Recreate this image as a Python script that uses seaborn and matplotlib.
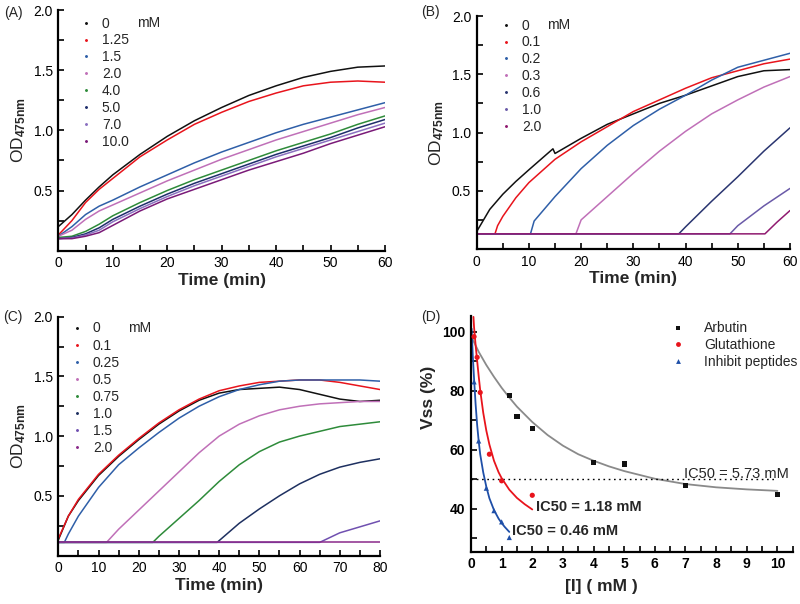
import numpy as np
import pandas as pd
import matplotlib
matplotlib.use('Agg')
import matplotlib.pyplot as plt
import seaborn as sns
from matplotlib.lines import Line2D
from matplotlib.ticker import MultipleLocator

sns.set_theme(style='ticks')
plt.rcParams['font.family'] = ['Liberation Sans', 'DejaVu Sans']
plt.rcParams['mathtext.fontset'] = 'custom'
plt.rcParams['mathtext.rm'] = 'Liberation Sans:bold'
plt.rcParams['mathtext.bf'] = 'Liberation Sans:bold'
plt.rcParams['mathtext.default'] = 'bf'

# ---------------- Panel A data ----------------
A_time = [0, 2.5, 5, 7.5, 10, 15, 20, 25, 30, 35, 40, 45, 50, 55, 60]
A_labels = ['0', '1.25', '1.5', '2.0', '4.0', '5.0', '7.0', '10.0']
A_colors = ['#111111', '#e8141c', '#2f5fa8', '#c070b8', '#2e8b3a', '#1e2d6b', '#8a70c0', '#7a1a78']
A_v0 = [0.20, 0.30, 0.42, 0.53, 0.63, 0.80, 0.95, 1.08, 1.19, 1.29, 1.37, 1.44, 1.49, 1.525, 1.535]
A_v125 = [0.13, 0.25, 0.40, 0.51, 0.60, 0.78, 0.92, 1.05, 1.15, 1.24, 1.31, 1.37, 1.40, 1.41, 1.40]
A_v15 = [0.12, 0.20, 0.30, 0.37, 0.42, 0.53, 0.63, 0.73, 0.82, 0.90, 0.98, 1.05, 1.11, 1.17, 1.23]
A_v20 = [0.12, 0.17, 0.26, 0.33, 0.38, 0.48, 0.58, 0.67, 0.76, 0.84, 0.92, 0.99, 1.06, 1.13, 1.19]
A_v40 = [0.11, 0.12, 0.16, 0.22, 0.29, 0.40, 0.50, 0.59, 0.67, 0.75, 0.83, 0.90, 0.97, 1.05, 1.12]
A_v50 = [0.10, 0.11, 0.14, 0.19, 0.26, 0.37, 0.47, 0.56, 0.64, 0.72, 0.80, 0.87, 0.94, 1.02, 1.09]
A_v70 = [0.10, 0.105, 0.13, 0.17, 0.24, 0.35, 0.45, 0.54, 0.62, 0.70, 0.78, 0.85, 0.92, 0.99, 1.06]
A_v100 = [0.10, 0.10, 0.12, 0.15, 0.21, 0.33, 0.43, 0.51, 0.59, 0.67, 0.74, 0.81, 0.89, 0.96, 1.03]

# ---------------- Panel B data ----------------
B_labels = ['0', '0.1', '0.2', '0.3', '0.6', '1.0', '2.0']
B_colors = ['#111111', '#e8141c', '#2f5fa8', '#c070b8', '#2a3570', '#6a5aa8', '#901a70']
B_t0 = [0, 2.5, 5, 7.5, 10, 14.6, 15, 20, 25, 30, 35, 40, 45, 50, 55, 60]
B_v0 = [0.15, 0.34, 0.47, 0.58, 0.68, 0.86, 0.82, 0.95, 1.07, 1.16, 1.25, 1.32, 1.40, 1.48, 1.53, 1.54]
B_t01 = [0, 3.5, 4, 5, 7.5, 10, 15, 20, 25, 30, 35, 40, 45, 50, 55, 60]
B_v01 = [0.13, 0.13, 0.20, 0.28, 0.44, 0.57, 0.77, 0.92, 1.05, 1.18, 1.28, 1.38, 1.47, 1.53, 1.59, 1.63]
B_t02 = [0, 10.3, 11, 15, 20, 25, 30, 35, 40, 45, 50, 55, 60]
B_v02 = [0.13, 0.13, 0.24, 0.45, 0.69, 0.89, 1.06, 1.20, 1.32, 1.45, 1.56, 1.62, 1.68]
B_t03 = [0, 19, 20, 25, 30, 35, 40, 45, 50, 55, 60]
B_v03 = [0.13, 0.13, 0.25, 0.45, 0.65, 0.84, 1.01, 1.16, 1.28, 1.39, 1.48]
B_t06 = [0, 38.7, 40, 45, 50, 55, 60]
B_v06 = [0.13, 0.13, 0.19, 0.41, 0.62, 0.84, 1.04]
B_t10 = [0, 48.5, 50, 55, 60]
B_v10 = [0.13, 0.13, 0.20, 0.37, 0.52]
B_t20 = [0, 55.2, 57.5, 60]
B_v20 = [0.13, 0.13, 0.23, 0.33]

# ---------------- Panel C data ----------------
C_labels = ['0', '0.1', '0.25', '0.5', '0.75', '1.0', '1.5', '2.0']
C_colors = ['#111111', '#e8141c', '#2f5fa8', '#c070b8', '#2e8b3a', '#1e3060', '#7050b0', '#8a2a8a']
C_t0 = [0, 2.5, 5, 10, 15, 20, 25, 30, 35, 40, 45, 50, 55, 60, 65, 70, 75, 80]
C_v0 = [0.13, 0.33, 0.46, 0.67, 0.83, 0.97, 1.10, 1.21, 1.30, 1.36, 1.39, 1.40, 1.41, 1.39, 1.35, 1.31, 1.29, 1.30]
C_t01 = [0, 2.5, 5, 10, 15, 20, 25, 30, 35, 40, 45, 50, 55, 60, 65, 70, 75, 80]
C_v01 = [0.14, 0.33, 0.47, 0.68, 0.84, 0.98, 1.11, 1.22, 1.31, 1.38, 1.42, 1.45, 1.46, 1.47, 1.47, 1.45, 1.42, 1.39]
C_t025 = [0, 1.5, 2.5, 5, 10, 15, 20, 25, 30, 35, 40, 45, 50, 55, 60, 65, 70, 75, 80]
C_v025 = [0.11, 0.11, 0.18, 0.33, 0.57, 0.76, 0.90, 1.03, 1.15, 1.25, 1.33, 1.39, 1.43, 1.46, 1.47, 1.47, 1.47, 1.47, 1.46]
C_t05 = [0, 12, 15, 20, 25, 30, 35, 40, 45, 50, 55, 60, 65, 70, 75, 80]
C_v05 = [0.11, 0.11, 0.22, 0.38, 0.54, 0.70, 0.86, 1.00, 1.10, 1.17, 1.22, 1.25, 1.27, 1.28, 1.29, 1.29]
C_t075 = [0, 23.5, 25, 30, 35, 40, 45, 50, 55, 60, 65, 70, 75, 80]
C_v075 = [0.11, 0.11, 0.16, 0.31, 0.46, 0.62, 0.76, 0.87, 0.95, 1.00, 1.04, 1.08, 1.10, 1.12]
C_t10 = [0, 39.5, 45, 50, 55, 60, 65, 70, 75, 80]
C_v10 = [0.11, 0.11, 0.27, 0.39, 0.50, 0.60, 0.68, 0.74, 0.78, 0.81]
C_t15 = [0, 65, 70, 75, 80]
C_v15 = [0.11, 0.11, 0.19, 0.24, 0.29]
C_t20 = [0, 80]
C_v20 = [0.11, 0.11]

# ---------------- Panel D data ----------------
D_names = ['Arbutin', 'Glutathione', 'Inhibit peptides']
D_colors = ['#111111', '#e8141c', '#1f4fa8']
D_arb_x = [1.25, 1.5, 2.0, 4.0, 5.0, 7.0, 10.0]
D_arb_y = [78.3, 71.2, 67.1, 55.8, 55.2, 48.0, 45.0]
D_glu_x = [0.1, 0.2, 0.3, 0.6, 1.0, 2.0]
D_glu_y = [98.3, 91.3, 79.4, 58.5, 49.5, 44.6]
D_pep_x = [0.1, 0.25, 0.5, 0.75, 1.0, 1.25]
D_pep_y = [83.0, 63.0, 47.0, 39.4, 35.6, 30.3]
# fitted curves
D_arb_fit_x = [0.05, 0.25, 0.5, 0.75, 1, 1.25, 1.5, 2, 2.5, 3, 3.5, 4, 4.5, 5, 6, 7, 8, 9, 10]
D_arb_fit_y = [97.5, 93.2, 88.7, 84.7, 81.0, 77.7, 74.6, 69.4, 65.0, 61.4, 58.5, 56.3, 54.4, 52.8, 50.2, 48.4, 47.3, 46.6, 46.1]
D_glu_fit_x = [0.08, 0.1, 0.15, 0.2, 0.25, 0.3, 0.4, 0.5, 0.6, 0.75, 0.9, 1.0, 1.25, 1.5, 1.75, 2.0]
D_glu_fit_y = [105.0, 101.5, 95.5, 90.2, 85.0, 80.2, 72.5, 66.5, 61.8, 56.3, 52.4, 50.4, 46.5, 43.7, 41.6, 39.8]
D_pep_fit_x = [0.02, 0.06, 0.1, 0.15, 0.2, 0.25, 0.3, 0.4, 0.5, 0.6, 0.75, 0.9, 1.0, 1.1, 1.25]
D_pep_fit_y = [101.0, 91.5, 84.0, 75.5, 68.5, 63.0, 58.5, 52.3, 47.5, 43.6, 39.6, 36.7, 35.2, 33.9, 32.2]
D_ic50_level = 50
D_ic50_texts = ['IC50 = 5.73 mM', 'IC50 = 1.18 mM', 'IC50 = 0.46 mM']

W, H = 800, 604
fig = plt.figure(figsize=(8.0, 6.04), dpi=100)


def fx(px):
    return px / W


def fy(py):
    return 1 - py / H


def add_ax(l, t, r, b):
    return fig.add_axes([fx(l), fy(b), fx(r) - fx(l), (b - t) / H])


def style(ax, bold_ticks=False):
    sns.despine(ax=ax)
    for s in ['left', 'bottom']:
        ax.spines[s].set_linewidth(1.6)
        ax.spines[s].set_color('black')
    ax.tick_params(which='both', direction='in', width=1.2, colors='black',
                   labelsize=10, pad=4)
    ax.tick_params(which='major', length=4)
    ax.tick_params(which='minor', length=4)
    if bold_ticks:
        for lab in ax.get_xticklabels() + ax.get_yticklabels():
            lab.set_fontweight('bold')


def series_frame(ts, vs, labels):
    rows = []
    for t, v, lab in zip(ts, vs, labels):
        rows.append(pd.DataFrame({'time': t, 'od': v, 'conc': lab}))
    return pd.concat(rows, ignore_index=True)


def od_panel(ax, df, labels, colors, xmax, xstep, leg_px, mm_px, spacing):
    sns.lineplot(data=df, x='time', y='od', hue='conc', hue_order=labels,
                 palette=colors, estimator=None, sort=False, lw=1.1,
                 legend=False, ax=ax)
    ax.set_xlim(0, xmax)
    ax.set_ylim(0.0, 2.0)
    ax.set_xticks(np.arange(0, xmax + 1, xstep))
    ax.xaxis.set_minor_locator(MultipleLocator(xstep / 2))
    ax.set_yticks([0.5, 1.0, 1.5, 2.0])
    ax.yaxis.set_minor_locator(MultipleLocator(0.25))
    ax.set_xlabel('Time (min)', fontsize=12.5, fontweight='bold', labelpad=2)
    ax.set_ylabel('OD$_{475nm}$', fontsize=12.5, labelpad=4)
    style(ax)
    handles = [Line2D([], [], ls='none', marker='.', markersize=2.2, color=c) for c in colors]
    ax.legend(handles, labels, loc='upper left', frameon=False, fontsize=10,
              bbox_to_anchor=(fx(leg_px[0]), fy(leg_px[1])), bbox_transform=fig.transFigure,
              borderaxespad=0, borderpad=0, handlelength=1.0, handletextpad=0.65,
              labelspacing=spacing)
    fig.text(fx(mm_px[0]), fy(mm_px[1]), 'mM', fontsize=10, va='center', ha='left')


# Panel A
axA = add_ax(58.3, 10, 385, 250.7)
dfA = series_frame([A_time] * 8, [A_v0, A_v125, A_v15, A_v20, A_v40, A_v50, A_v70, A_v100], A_labels)
od_panel(axA, dfA, A_labels, A_colors, 60, 10, (79, 16.5), (137, 23.3), 0.21)

# Panel B
axB = add_ax(476.7, 16, 790, 249)
dfB = series_frame([B_t0, B_t01, B_t02, B_t03, B_t06, B_t10, B_t20],
                   [B_v0, B_v01, B_v02, B_v03, B_v06, B_v10, B_v20], B_labels)
od_panel(axB, dfB, B_labels, B_colors, 60, 10, (499, 18.5), (546.7, 25), 0.21)

# Panel C
axC = add_ax(58.3, 316.7, 380, 555.5)
dfC = series_frame([C_t0, C_t01, C_t025, C_t05, C_t075, C_t10, C_t15, C_t20],
                   [C_v0, C_v01, C_v025, C_v05, C_v075, C_v10, C_v15, C_v20], C_labels)
od_panel(axC, dfC, C_labels, C_colors, 80, 10, (70, 321.5), (128, 328.3), 0.22)

# Panel D
axD = add_ax(471, 316, 792.7, 551.7)
dpts = pd.concat([
    pd.DataFrame({'conc': D_arb_x, 'vss': D_arb_y, 'agent': D_names[0]}),
    pd.DataFrame({'conc': D_glu_x, 'vss': D_glu_y, 'agent': D_names[1]}),
    pd.DataFrame({'conc': D_pep_x, 'vss': D_pep_y, 'agent': D_names[2]}),
], ignore_index=True)
dfit = pd.concat([
    pd.DataFrame({'conc': D_arb_fit_x, 'vss': D_arb_fit_y, 'agent': D_names[0]}),
    pd.DataFrame({'conc': D_glu_fit_x, 'vss': D_glu_fit_y, 'agent': D_names[1]}),
    pd.DataFrame({'conc': D_pep_fit_x, 'vss': D_pep_fit_y, 'agent': D_names[2]}),
], ignore_index=True)
sns.lineplot(data=dfit, x='conc', y='vss', hue='agent', hue_order=D_names,
             palette=['#8a8a8a', '#e8141c', '#1f4fa8'], estimator=None, sort=False,
             lw=1.3, legend=False, ax=axD)
markers = {'Arbutin': 's', 'Glutathione': 'o', 'Inhibit peptides': '^'}
sns.scatterplot(data=dpts, x='conc', y='vss', hue='agent', style='agent',
                hue_order=D_names, style_order=D_names, markers=markers,
                palette=D_colors, s=14, linewidth=0, legend=False, ax=axD, zorder=3)
axD.axhline(D_ic50_level, xmin=0, xmax=10 / 10.5, color='black', ls=(0, (1.2, 2.6)), lw=1.0)
axD.set_xlim(0, 10.5)
axD.set_ylim(25.5, 105.3)
axD.set_xticks(range(0, 11))
axD.xaxis.set_minor_locator(MultipleLocator(0.5))
axD.set_yticks([40, 60, 80, 100])
axD.yaxis.set_minor_locator(MultipleLocator(10))
axD.set_xlabel('[I] ( mM )', fontsize=12.5, fontweight='bold')
axD.set_ylabel('Vss (%)', fontsize=12.5, fontweight='bold')
axD.xaxis.set_label_coords(0.406, -0.115)
axD.yaxis.set_label_coords(-0.11, 0.656)
style(axD, bold_ticks=True)
axD.text(6.95, 51.8, D_ic50_texts[0], fontsize=10.5, ha='left', va='center')
axD.text(2.12, 40.8, D_ic50_texts[1], fontsize=10.5, fontweight='bold', ha='left', va='center')
axD.text(1.35, 32.5, D_ic50_texts[2], fontsize=10.5, fontweight='bold', ha='left', va='center')
hD = [Line2D([], [], ls='none', marker=m, markersize=3.5, color=c, markeredgewidth=0)
      for m, c in zip(['s', 'o', '^'], D_colors)]
leg = axD.legend(hD, D_names, loc='upper left', frameon=False, fontsize=10,
                 bbox_to_anchor=(fx(672), fy(321.5)), bbox_transform=fig.transFigure,
                 borderaxespad=0, borderpad=0, handlelength=0.8, handletextpad=1.5,
                 labelspacing=0.2)

# panel letters
fig.text(fx(4), fy(13), '(A)', fontsize=10, va='center')
fig.text(fx(421), fy(12), '(B)', fontsize=10, va='center')
fig.text(fx(3), fy(317), '(C)', fontsize=10, va='center')
fig.text(fx(421), fy(317), '(D)', fontsize=10, va='center')

fig.savefig('out.png', dpi=100)
